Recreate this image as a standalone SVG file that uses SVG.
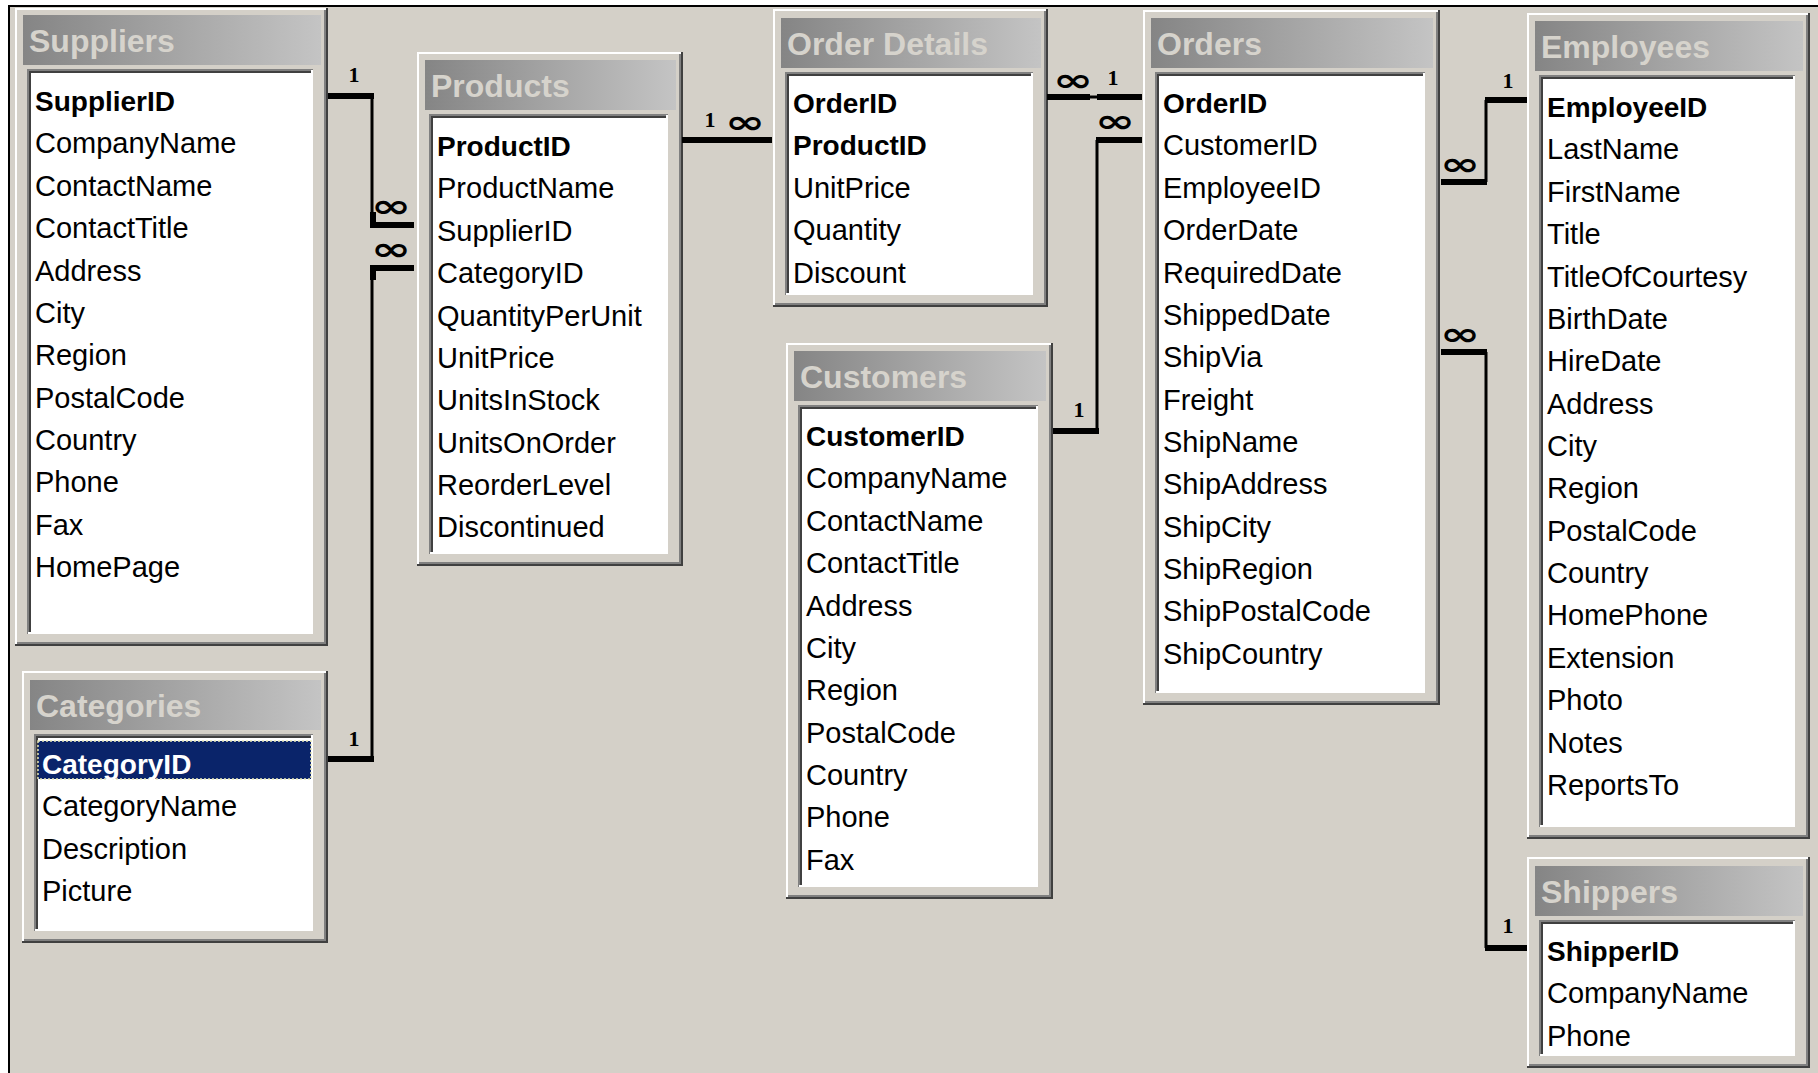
<svg xmlns="http://www.w3.org/2000/svg" width="1818" height="1073" viewBox="0 0 1818 1073">
<defs>
<linearGradient id="tg" x1="0" y1="0" x2="1" y2="0">
<stop offset="0" stop-color="#858585"/>
<stop offset="1" stop-color="#c4c4c4"/>
</linearGradient>
</defs>
<style>
.win{fill:#d4d0c8}
.lt{fill:none;stroke:#ffffff;stroke-width:2}
.dk{fill:none;stroke:#404040;stroke-width:2}
.md{fill:none;stroke:#808080;stroke-width:2}
.ttl{fill:url(#tg)}
.tt{font-family:"Liberation Sans",Arial,sans-serif;font-weight:bold;font-size:32px;fill:#d6d3cc}
.lst{fill:#ffffff}
.f{font-family:"Liberation Sans",Arial,sans-serif;font-size:29px;fill:#000}
.k{font-family:"Liberation Sans",Arial,sans-serif;font-size:28px;font-weight:bold;fill:#000}
.thin{fill:none;stroke:#000;stroke-width:3}
.thick{fill:none;stroke:#000;stroke-width:6}
.one{font-family:"Liberation Serif","Times New Roman",serif;font-weight:bold;font-size:22px;fill:#000;text-anchor:middle}
.inf{font-family:"DejaVu Sans",sans-serif;font-weight:bold;font-size:40px;fill:#000;text-anchor:middle;dominant-baseline:central}
</style>
<rect x="0" y="0" width="1818" height="1073" fill="#ffffff"/>
<rect x="8" y="5" width="1810" height="1068" fill="#d4d0c8"/>
<path d="M9,1073 V6 H1818" fill="none" stroke="#000" stroke-width="2"/>

<g id="suppliers">
<rect class="win" x="15" y="8" width="313" height="638"/>
<path class="lt" d="M16,645 V9 H327"/>
<path class="dk" d="M15,645 H327 V8"/>
<path class="md" d="M17,643 H325 V10"/>
<rect class="ttl" x="23" y="15" width="298" height="50"/>
<text class="tt" x="29" y="52">Suppliers</text>
<rect class="lst" x="27" y="69" width="286" height="565"/>
<path class="md" d="M28,634 V70 H313"/>
<path class="dk" d="M30,632 V72 H311"/>
<path class="lt" d="M28,633 H312 V70"/>
<text class="k" x="35" y="111">SupplierID</text>
<text class="f" x="35" y="153.4">CompanyName</text>
<text class="f" x="35" y="195.7">ContactName</text>
<text class="f" x="35" y="238.1">ContactTitle</text>
<text class="f" x="35" y="280.5">Address</text>
<text class="f" x="35" y="322.9">City</text>
<text class="f" x="35" y="365.2">Region</text>
<text class="f" x="35" y="407.6">PostalCode</text>
<text class="f" x="35" y="450">Country</text>
<text class="f" x="35" y="492.3">Phone</text>
<text class="f" x="35" y="534.7">Fax</text>
<text class="f" x="35" y="577.1">HomePage</text>
</g>

<g id="categories">
<rect class="win" x="22" y="671" width="306" height="272"/>
<path class="lt" d="M23,942 V672 H327"/>
<path class="dk" d="M22,942 H327 V671"/>
<path class="md" d="M24,940 H325 V673"/>
<rect class="ttl" x="30" y="680" width="291" height="50"/>
<text class="tt" x="36" y="717">Categories</text>
<rect class="lst" x="34" y="734" width="279" height="197"/>
<path class="md" d="M35,931 V735 H313"/>
<path class="dk" d="M37,929 V737 H311"/>
<path class="lt" d="M35,930 H312 V735"/>
<rect x="38" y="741" width="273" height="38" fill="#0a246a"/>
<rect x="38" y="741" width="273" height="38" fill="none" stroke="#e8e8b8" stroke-width="1.5" stroke-dasharray="2,2"/>
<text class="k" x="42" y="774" style="fill:#ffffff">CategoryID</text>
<text class="f" x="42" y="816.4">CategoryName</text>
<text class="f" x="42" y="858.7">Description</text>
<text class="f" x="42" y="901.1">Picture</text>
</g>

<g id="products">
<rect class="win" x="417" y="52" width="266" height="514"/>
<path class="lt" d="M418,565 V53 H682"/>
<path class="dk" d="M417,565 H682 V52"/>
<path class="md" d="M419,563 H680 V54"/>
<rect class="ttl" x="425" y="60" width="251" height="50"/>
<text class="tt" x="431" y="97">Products</text>
<rect class="lst" x="429" y="114" width="239" height="440"/>
<path class="md" d="M430,554 V115 H668"/>
<path class="dk" d="M432,552 V117 H666"/>
<path class="lt" d="M430,553 H667 V115"/>
<text class="k" x="437" y="156">ProductID</text>
<text class="f" x="437" y="198.4">ProductName</text>
<text class="f" x="437" y="240.7">SupplierID</text>
<text class="f" x="437" y="283.1">CategoryID</text>
<text class="f" x="437" y="325.5">QuantityPerUnit</text>
<text class="f" x="437" y="367.9">UnitPrice</text>
<text class="f" x="437" y="410.2">UnitsInStock</text>
<text class="f" x="437" y="452.6">UnitsOnOrder</text>
<text class="f" x="437" y="495">ReorderLevel</text>
<text class="f" x="437" y="537.3">Discontinued</text>
</g>

<g id="order-details">
<rect class="win" x="773" y="9" width="275" height="298"/>
<path class="lt" d="M774,306 V10 H1047"/>
<path class="dk" d="M773,306 H1047 V9"/>
<path class="md" d="M775,304 H1045 V11"/>
<rect class="ttl" x="781" y="18" width="260" height="50"/>
<text class="tt" x="787" y="55">Order Details</text>
<rect class="lst" x="785" y="72" width="248" height="223"/>
<path class="md" d="M786,295 V73 H1033"/>
<path class="dk" d="M788,293 V75 H1031"/>
<path class="lt" d="M786,294 H1032 V73"/>
<text class="k" x="793" y="113">OrderID</text>
<text class="k" x="793" y="155.4">ProductID</text>
<text class="f" x="793" y="197.7">UnitPrice</text>
<text class="f" x="793" y="240.1">Quantity</text>
<text class="f" x="793" y="282.5">Discount</text>
</g>

<g id="customers">
<rect class="win" x="786" y="343" width="267" height="556"/>
<path class="lt" d="M787,898 V344 H1052"/>
<path class="dk" d="M786,898 H1052 V343"/>
<path class="md" d="M788,896 H1050 V345"/>
<rect class="ttl" x="794" y="351" width="252" height="50"/>
<text class="tt" x="800" y="388">Customers</text>
<rect class="lst" x="798" y="405" width="240" height="482"/>
<path class="md" d="M799,887 V406 H1038"/>
<path class="dk" d="M801,885 V408 H1036"/>
<path class="lt" d="M799,886 H1037 V406"/>
<text class="k" x="806" y="446">CustomerID</text>
<text class="f" x="806" y="488.4">CompanyName</text>
<text class="f" x="806" y="530.7">ContactName</text>
<text class="f" x="806" y="573.1">ContactTitle</text>
<text class="f" x="806" y="615.5">Address</text>
<text class="f" x="806" y="657.9">City</text>
<text class="f" x="806" y="700.2">Region</text>
<text class="f" x="806" y="742.6">PostalCode</text>
<text class="f" x="806" y="785">Country</text>
<text class="f" x="806" y="827.3">Phone</text>
<text class="f" x="806" y="869.7">Fax</text>
</g>

<g id="orders">
<rect class="win" x="1143" y="10" width="297" height="695"/>
<path class="lt" d="M1144,704 V11 H1439"/>
<path class="dk" d="M1143,704 H1439 V10"/>
<path class="md" d="M1145,702 H1437 V12"/>
<rect class="ttl" x="1151" y="18" width="282" height="50"/>
<text class="tt" x="1157" y="55">Orders</text>
<rect class="lst" x="1155" y="72" width="270" height="621"/>
<path class="md" d="M1156,693 V73 H1425"/>
<path class="dk" d="M1158,691 V75 H1423"/>
<path class="lt" d="M1156,692 H1424 V73"/>
<text class="k" x="1163" y="113">OrderID</text>
<text class="f" x="1163" y="155.4">CustomerID</text>
<text class="f" x="1163" y="197.7">EmployeeID</text>
<text class="f" x="1163" y="240.1">OrderDate</text>
<text class="f" x="1163" y="282.5">RequiredDate</text>
<text class="f" x="1163" y="324.9">ShippedDate</text>
<text class="f" x="1163" y="367.2">ShipVia</text>
<text class="f" x="1163" y="409.6">Freight</text>
<text class="f" x="1163" y="452">ShipName</text>
<text class="f" x="1163" y="494.3">ShipAddress</text>
<text class="f" x="1163" y="536.7">ShipCity</text>
<text class="f" x="1163" y="579.1">ShipRegion</text>
<text class="f" x="1163" y="621.4">ShipPostalCode</text>
<text class="f" x="1163" y="663.8">ShipCountry</text>
</g>

<g id="employees">
<rect class="win" x="1527" y="13" width="283" height="826"/>
<path class="lt" d="M1528,838 V14 H1809"/>
<path class="dk" d="M1527,838 H1809 V13"/>
<path class="md" d="M1529,836 H1807 V15"/>
<rect class="ttl" x="1535" y="21" width="268" height="50"/>
<text class="tt" x="1541" y="58">Employees</text>
<rect class="lst" x="1539" y="75" width="256" height="752"/>
<path class="md" d="M1540,827 V76 H1795"/>
<path class="dk" d="M1542,825 V78 H1793"/>
<path class="lt" d="M1540,826 H1794 V76"/>
<text class="k" x="1547" y="117">EmployeeID</text>
<text class="f" x="1547" y="159.4">LastName</text>
<text class="f" x="1547" y="201.7">FirstName</text>
<text class="f" x="1547" y="244.1">Title</text>
<text class="f" x="1547" y="286.5">TitleOfCourtesy</text>
<text class="f" x="1547" y="328.9">BirthDate</text>
<text class="f" x="1547" y="371.2">HireDate</text>
<text class="f" x="1547" y="413.6">Address</text>
<text class="f" x="1547" y="456">City</text>
<text class="f" x="1547" y="498.3">Region</text>
<text class="f" x="1547" y="540.7">PostalCode</text>
<text class="f" x="1547" y="583.1">Country</text>
<text class="f" x="1547" y="625.4">HomePhone</text>
<text class="f" x="1547" y="667.8">Extension</text>
<text class="f" x="1547" y="710.2">Photo</text>
<text class="f" x="1547" y="752.6">Notes</text>
<text class="f" x="1547" y="794.9">ReportsTo</text>
</g>

<g id="shippers">
<rect class="win" x="1527" y="857" width="283" height="211"/>
<path class="lt" d="M1528,1067 V858 H1809"/>
<path class="dk" d="M1527,1067 H1809 V857"/>
<path class="md" d="M1529,1065 H1807 V859"/>
<rect class="ttl" x="1535" y="866" width="268" height="50"/>
<text class="tt" x="1541" y="903">Shippers</text>
<rect class="lst" x="1539" y="920" width="256" height="136"/>
<path class="md" d="M1540,1056 V921 H1795"/>
<path class="dk" d="M1542,1054 V923 H1793"/>
<path class="lt" d="M1540,1055 H1794 V921"/>
<text class="k" x="1547" y="961">ShipperID</text>
<text class="f" x="1547" y="1003.4">CompanyName</text>
<text class="f" x="1547" y="1045.7">Phone</text>
</g>

<g id="connectors">
<path class="thin" d="M372,96 V226"/>
<path class="thin" d="M372,759 V267"/>
<path class="thin" d="M1047,97 H1142"/>
<path class="thin" d="M1097,431 V140"/>
<path class="thin" d="M1486,182 V100"/>
<path class="thin" d="M1486,352 V948"/>
<path class="thick" d="M328,96 H374"/>
<path class="thick" d="M414,225 H373 V212"/>
<path class="thick" d="M414,268 H373 V280"/>
<path class="thick" d="M328,759 H374"/>
<path class="thick" d="M682,140 H772"/>
<path class="thick" d="M1047,97 H1090"/>
<path class="thick" d="M1097,97 H1142"/>
<path class="thick" d="M1053,431 H1099"/>
<path class="thick" d="M1142,140 H1096"/>
<path class="thick" d="M1441,182 H1487"/>
<path class="thick" d="M1485,100 H1527"/>
<path class="thick" d="M1441,352 H1487"/>
<path class="thick" d="M1485,948 H1527"/>
<text class="one" x="354" y="82">1</text>
<text class="one" x="354" y="746">1</text>
<text class="one" x="710" y="127">1</text>
<text class="one" x="1113" y="85">1</text>
<text class="one" x="1079" y="417">1</text>
<text class="one" x="1508" y="88">1</text>
<text class="one" x="1508" y="933">1</text>
<text class="inf" transform="translate(391,206) scale(1.2,0.8)">∞</text>
<text class="inf" transform="translate(391,249) scale(1.2,0.8)">∞</text>
<text class="inf" transform="translate(745,122) scale(1.2,0.8)">∞</text>
<text class="inf" transform="translate(1073,80) scale(1.2,0.8)">∞</text>
<text class="inf" transform="translate(1115,121) scale(1.2,0.8)">∞</text>
<text class="inf" transform="translate(1460,164) scale(1.2,0.8)">∞</text>
<text class="inf" transform="translate(1460,334) scale(1.2,0.8)">∞</text>
</g>
</svg>
